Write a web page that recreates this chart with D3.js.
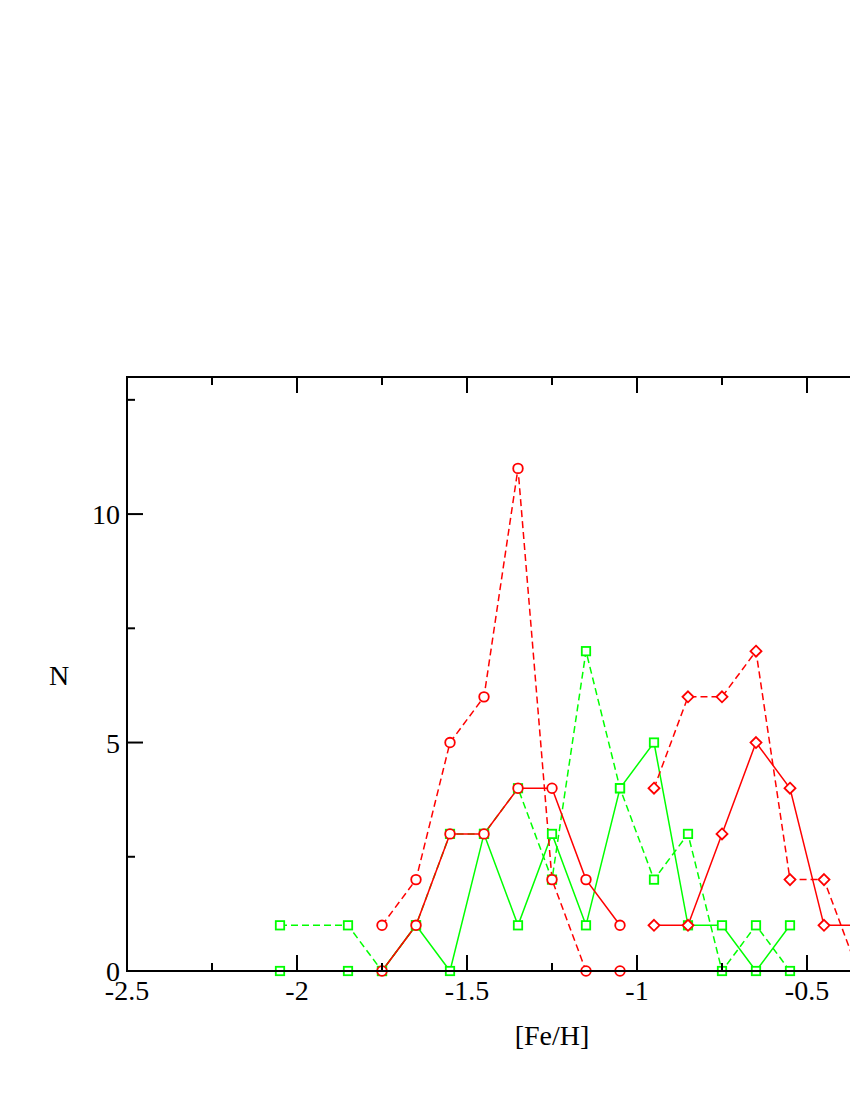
<!DOCTYPE html>
<html><head><meta charset="utf-8">
<script src="https://cdn.jsdelivr.net/npm/d3@7"></script>
<style>body{margin:0;background:#fff}svg{display:block}</style>
</head><body>
<script>
// Data
const redDashCircX = [-1.75,-1.65,-1.55,-1.45,-1.35,-1.25,-1.15,-1.05];
const redDashCircY = [1,2,5,6,11,2,0,0];
const redSolidCircX = [-1.75,-1.65,-1.55,-1.45,-1.35,-1.25,-1.15,-1.05];
const redSolidCircY = [0,1,3,3,4,4,2,1];
const greenDashX = [-2.05,-1.85,-1.75,-1.65,-1.55,-1.45,-1.35,-1.25,-1.15,-1.05,-0.95,-0.85,-0.75,-0.65,-0.55];
const greenDashY = [1,1,0,1,3,3,4,2,7,4,2,3,0,1,0];
const greenSolidX = [-2.05,-1.85,-1.75,-1.65,-1.55,-1.45,-1.35,-1.25,-1.15,-1.05,-0.95,-0.85,-0.75,-0.65,-0.55];
const greenSolidY = [0,0,0,1,0,3,1,3,1,4,5,1,1,0,1];
const redDashDiaX = [-0.95,-0.85,-0.75,-0.65,-0.55,-0.45,-0.35];
const redDashDiaY = [4,6,6,7,2,2,0];
const redSolidDiaX = [-0.95,-0.85,-0.75,-0.65,-0.55,-0.45,-0.35];
const redSolidDiaY = [1,1,3,5,4,1,1];
const xTickVals = [-2.5,-2,-1.5,-1,-0.5];
const xTickLabels = ["-2.5","-2","-1.5","-1","-0.5"];
const yTickVals = [0,5,10];
const yTickLabels = ["0","5","10"];

const W = 850, H = 1100;
const pLeft = 127, pTop = 377, pBottom = 971, pRight = 977;
const svg = d3.select("body").append("svg").attr("width", W).attr("height", H);
const x = d3.scaleLinear().domain([-2.5, 0]).range([pLeft, pRight]);
const y = d3.scaleLinear().domain([0, 13]).range([pBottom, pTop]);
const font = "Liberation Serif, Times New Roman, serif";

const RED = "#ff0000", GREEN = "#00ff00";
const series = [
  {xs: greenSolidX, ys: greenSolidY, color: GREEN, dash: null, mk: "square"},
  {xs: greenDashX, ys: greenDashY, color: GREEN, dash: "7,4", mk: "square"},
  {xs: redSolidCircX, ys: redSolidCircY, color: RED, dash: null, mk: "circle"},
  {xs: redDashCircX, ys: redDashCircY, color: RED, dash: "7,4", mk: "circle"},
  {xs: redSolidDiaX, ys: redSolidDiaY, color: RED, dash: null, mk: "diamond"},
  {xs: redDashDiaX, ys: redDashDiaY, color: RED, dash: "7,4", mk: "diamond"},
];

const line = d3.line().x(d => x(d[0])).y(d => y(d[1]));
const g = svg.append("g");
series.forEach(s => {
  const pts = s.xs.map((v, i) => [v, s.ys[i]]);
  g.append("path").attr("d", line(pts)).attr("fill", "none")
    .attr("stroke", s.color).attr("stroke-width", 1.5)
    .attr("stroke-dasharray", s.dash);
});
series.forEach(s => {
  const pts = s.xs.map((v, i) => [v, s.ys[i]]);
  pts.forEach(p => {
    const cx = x(p[0]), cy = y(p[1]);
    if (s.mk === "circle") {
      g.append("circle").attr("cx", cx).attr("cy", cy).attr("r", 4.8)
        .attr("fill", "#fff").attr("stroke", s.color).attr("stroke-width", 1.8);
    } else if (s.mk === "square") {
      g.append("rect").attr("x", cx - 4.2).attr("y", cy - 4.2).attr("width", 8.4).attr("height", 8.4)
        .attr("fill", "#fff").attr("stroke", s.color).attr("stroke-width", 1.8);
    } else {
      g.append("path").attr("d", `M${cx},${cy-5.5}L${cx+5.5},${cy}L${cx},${cy+5.5}L${cx-5.5},${cy}Z`)
        .attr("fill", "#fff").attr("stroke", s.color).attr("stroke-width", 1.8);
    }
  });
});

// Axes frame
const ax = svg.append("g").attr("stroke", "#000").attr("stroke-width", 2);
ax.append("line").attr("x1", pLeft).attr("x2", pRight).attr("y1", pBottom).attr("y2", pBottom);
ax.append("line").attr("x1", pLeft).attr("x2", pRight).attr("y1", pTop).attr("y2", pTop);
ax.append("line").attr("x1", pLeft).attr("x2", pLeft).attr("y1", pTop - 1).attr("y2", pBottom + 1);

// X ticks
const xMajor = d3.range(-2.5, 0.001, 0.5);
const xMinor = d3.range(-2.25, 0, 0.5);
xMajor.forEach(v => {
  ax.append("line").attr("x1", x(v)).attr("x2", x(v)).attr("y1", pBottom).attr("y2", pBottom - 16);
  ax.append("line").attr("x1", x(v)).attr("x2", x(v)).attr("y1", pTop).attr("y2", pTop + 16);
});
xMinor.forEach(v => {
  ax.append("line").attr("x1", x(v)).attr("x2", x(v)).attr("y1", pBottom).attr("y2", pBottom - 8);
  ax.append("line").attr("x1", x(v)).attr("x2", x(v)).attr("y1", pTop).attr("y2", pTop + 8);
});
// Y ticks
[0,5,10].forEach(v => {
  ax.append("line").attr("x1", pLeft).attr("x2", pLeft + 16).attr("y1", y(v)).attr("y2", y(v));
});
[2.5,7.5,12.5].forEach(v => {
  ax.append("line").attr("x1", pLeft).attr("x2", pLeft + 8).attr("y1", y(v)).attr("y2", y(v));
});

// Labels
const tx = svg.append("g").attr("font-family", font).attr("font-size", 28).attr("fill", "#000");
xTickVals.forEach((v, i) => {
  tx.append("text").attr("x", x(v)).attr("y", 1000).attr("text-anchor", "middle").text(xTickLabels[i]);
});
yTickVals.forEach((v, i) => {
  tx.append("text").attr("x", 120).attr("y", y(v) + 10).attr("text-anchor", "end").text(yTickLabels[i]);
});
tx.append("text").attr("x", 552).attr("y", 1045).attr("text-anchor", "middle").text("[Fe/H]");
tx.append("text").attr("x", 59).attr("y", 685).attr("text-anchor", "middle").text("N");
</script>
</body></html>
